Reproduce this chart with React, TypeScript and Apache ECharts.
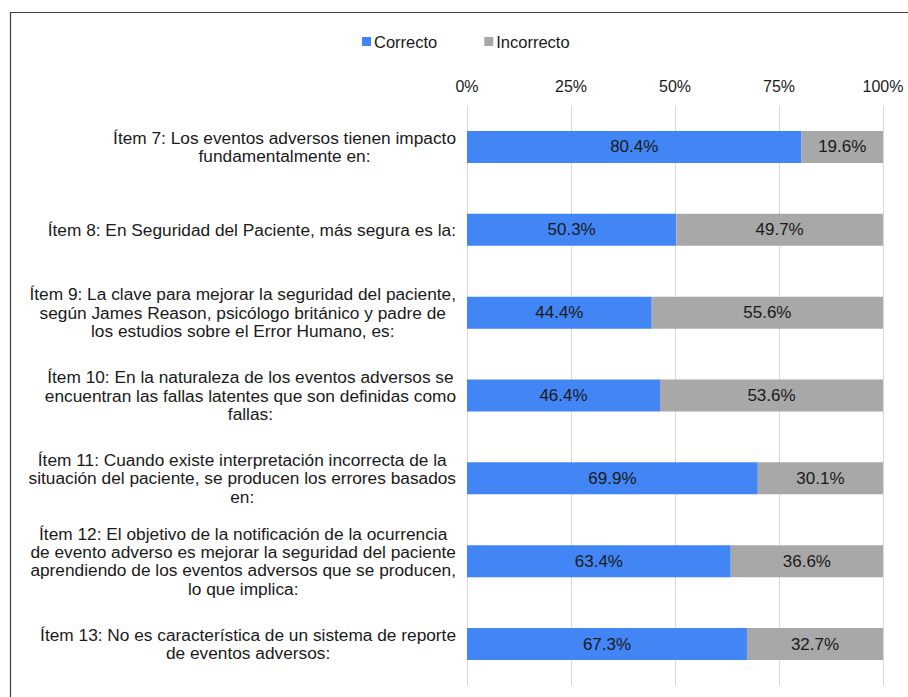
import React, { useEffect, useRef } from "react";
import * as echarts from "echarts";

const categories: string[] = [
  "Ítem 7: Los eventos adversos tienen impacto\nfundamentalmente en:",
  "Ítem 8: En Seguridad del Paciente, más segura es la:",
  "Ítem 9: La clave para mejorar la seguridad del paciente,\nsegún James Reason, psicólogo británico y padre de\nlos estudios sobre el Error Humano, es:",
  "Ítem 10: En la naturaleza de los eventos adversos se\nencuentran las fallas latentes que son definidas como\nfallas:",
  "Ítem 11: Cuando existe interpretación incorrecta de la\nsituación del paciente, se producen los errores basados\nen:",
  "Ítem 12: El objetivo de la notificación de la ocurrencia\nde evento adverso es mejorar la seguridad del paciente\naprendiendo de los eventos adversos que se producen,\nlo que implica:",
  "Ítem 13: No es característica de un sistema de reporte\nde eventos adversos:",
];
const correcto: number[] = [80.4, 50.3, 44.4, 46.4, 69.9, 63.4, 67.3];
const incorrecto: number[] = [19.6, 49.7, 55.6, 53.6, 30.1, 36.6, 32.7];
const seriesNames: string[] = ["Correcto", "Incorrecto"];

const FONT = "'Liberation Sans', Arial, sans-serif";

export default function App() {
  const ref = useRef<HTMLDivElement>(null);
  useEffect(() => {
    document.body.style.margin = "0";
    const chart = echarts.init(ref.current!, undefined, { renderer: "svg" });
    const labelCfg = {
      show: true,
      position: "inside" as const,
      color: "#1a1a1a",
      fontSize: 17,
      fontFamily: FONT,
      formatter: (p: any) => `${p.value.toFixed(1)}%`,
    };
    chart.setOption({
      animation: false,
      textStyle: { fontFamily: FONT },
      graphic: [
        {
          type: "rect",
          shape: { x: 10.5, y: 12.5, width: 1000, height: 1000 },
          style: { fill: "none", stroke: "#404040", lineWidth: 1.2 },
          silent: true,
        },
      ],
      legend: {
        top: 28,
        left: 357,
        itemWidth: 9,
        itemHeight: 9,
        itemGap: 47,
        icon: "rect",
        textStyle: { fontSize: 16.5, color: "#1a1a1a", fontFamily: FONT, padding: [0, 0, 0, -2] },
        data: seriesNames,
      },
      grid: { left: 467, right: 25, top: 105.5, bottom: 11.5, containLabel: false },
      xAxis: {
        type: "value",
        position: "top",
        min: 0,
        max: 100,
        interval: 25,
        axisLine: { show: false },
        axisTick: { show: false },
        axisLabel: {
          formatter: "{value}%",
          fontSize: 16,
          color: "#1a1a1a",
          fontFamily: FONT,
          margin: 11,
        },
        splitLine: { show: true, lineStyle: { color: "#d9d9d9", width: 1 } },
      },
      yAxis: {
        type: "category",
        inverse: true,
        data: categories,
        axisLine: { show: false },
        axisTick: { show: false },
        axisLabel: {
          margin: 11,
          formatter: (v: string) =>
            v
              .split("\n")
              .map((l) => `{a|${l}}`)
              .join("\n"),
          rich: {
            a: {
              align: "center",
              fontSize: 17.3,
              lineHeight: 18.4,
              color: "#1a1a1a",
              fontFamily: FONT,
            },
          },
        },
      },
      series: [
        {
          name: seriesNames[0],
          type: "bar",
          stack: "total",
          barWidth: 32,
          data: correcto,
          itemStyle: { color: "#4285F4" },
          label: labelCfg,
        },
        {
          name: seriesNames[1],
          type: "bar",
          stack: "total",
          barWidth: 32,
          data: incorrecto,
          itemStyle: { color: "#A8A8A8" },
          label: labelCfg,
        },
      ],
    });
    return () => chart.dispose();
  }, []);
  return (
    <div
      ref={ref}
      style={{ position: "absolute", left: 0, top: 0, width: 908, height: 697 }}
    />
  );
}
